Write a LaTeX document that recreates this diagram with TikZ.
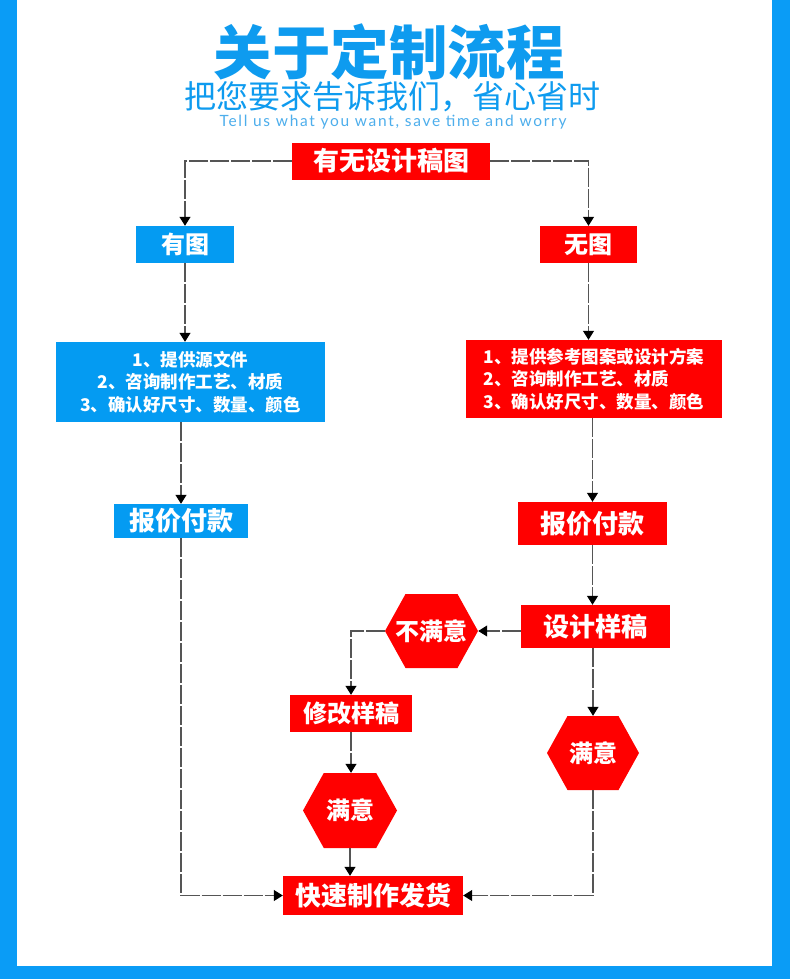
\documentclass[tikz,border=0pt]{standalone}
\usepackage{fontspec}
\setmainfont{Noto Sans CJK SC}
\newfontfamily\latinfont{Lato}[LetterSpace=11]
\usepackage{xcolor}
\usetikzlibrary{positioning,arrows.meta,shapes.symbols}

\definecolor{edgeblue}{HTML}{0A9CF6}
\definecolor{titleblue}{HTML}{0E9BEF}
\definecolor{subblue}{HTML}{4DAEEC}
\definecolor{boxblue}{HTML}{049BF2}
\definecolor{flowred}{HTML}{FF0000}
\definecolor{linegray}{HTML}{555555}

\begin{document}
\begin{tikzpicture}[x=1pt,y=-1pt,
    redbox/.style={fill=flowred, text=white, inner sep=0pt, font=\bfseries\fontsize{26}{28}\selectfont},
    bluebox/.style={redbox, fill=boxblue},
    listbox/.style={inner sep=0pt, text=white, font=\bfseries\fontsize{17.5}{22.5}\selectfont},
    hexa/.style={redbox, shape=signal, signal to=west and east, signal pointer angle=122,
      font=\bfseries\fontsize{24}{26}\selectfont},
    flow/.style={draw=linegray, line width=1.1pt, dash pattern=on 19pt off 2pt,
      -{Triangle[width=11pt,length=9pt,color=black]}}]
  % page and frame
  \fill[white] (0,0) rectangle (790,979);
  \fill[edgeblue] (0,0) rectangle (17,979);
  \fill[edgeblue] (772,0) rectangle (790,979);
  \fill[edgeblue] (0,966) rectangle (790,979);

  % heading
  \node[titleblue, font=\bfseries\fontsize{58.5}{62}\selectfont] (title) at (389,52) {关于定制流程};
  \node[titleblue, font=\fontsize{32}{34}\selectfont] (subtitle) at (392,97) {把您要求告诉我们，省心省时};
  \node[subblue, font=\latinfont\fontsize{15.5}{17}\selectfont] (motto) at (393,122) {Tell us what you want, save time and worry};

  % question and the two branches
  \node[redbox, minimum width=198, minimum height=37] (ask) at (391,161) {有无设计稿图};
  \node[bluebox, minimum width=98, minimum height=37, font=\bfseries\fontsize{24}{26}\selectfont] (has) at (185,244.5) {有图};
  \node[redbox, minimum width=97, minimum height=37, font=\bfseries\fontsize{24}{26}\selectfont] (hasnot) at (588.5,244.5) {无图};

  \node[listbox, fill=boxblue, minimum width=269, minimum height=80, align=center] (haslist) at (190.5,382)
    {1、提供源文件\\2、咨询制作工艺、材质\\3、确认好尺寸、数量、颜色};
  \node[listbox, fill=flowred, minimum width=256, minimum height=78, align=left] (hasnotlist) at (594,379)
    {1、提供参考图案或设计方案\\2、咨询制作工艺、材质\\ 3、确认好尺寸、数量、颜色};

  \node[bluebox, minimum width=134, minimum height=34] (haspay) at (181,521) {报价付款};
  \node[redbox, minimum width=149, minimum height=43] (hasnotpay) at (592.5,523.5) {报价付款};

  % design loop
  \node[redbox, minimum width=149, minimum height=43] (sample) at (595.5,626.5) {设计样稿};
  \node[hexa, minimum width=93, minimum height=74, inner xsep=-10pt] (unhappy) at (431.5,631) {不满意};
  \node[redbox, minimum width=122, minimum height=37, font=\bfseries\fontsize{24}{26}\selectfont] (revise) at (351,713.5) {修改样稿};
  \node[hexa, minimum width=94, minimum height=75] (happyleft) at (350,810.5) {满意};
  \node[hexa, minimum width=92, minimum height=74] (happyright) at (593,753) {满意};
  \node[redbox, minimum width=180, minimum height=39] (ship) at (373,895.5) {快速制作发货};

  % connectors
  \draw[flow] (ask.west) -| (has.north);
  \draw[flow] (ask.east) -| (hasnot.north);
  \draw[flow] (has.south) -- (has.south |- haslist.north);
  \draw[flow] (hasnot.south) -- (hasnot.south |- hasnotlist.north);
  \draw[flow] (haspay.north |- haslist.south) -- (haspay.north);
  \draw[flow] (hasnotpay.north |- hasnotlist.south) -- (hasnotpay.north);
  \draw[flow] (hasnotpay.south) -- (hasnotpay.south |- sample.north);
  \draw[flow] (sample.west |- unhappy.east) -- (unhappy.east);
  \draw[flow] (unhappy.west) -| (revise.north);
  \draw[flow] (revise.south) -- (revise.south |- happyleft.north);
  \draw[flow] (happyleft.south) -- (happyleft.south |- ship.north);
  \draw[flow] (sample.south -| happyright.north) -- (happyright.north);
  \draw[flow] (haspay.south) |- (ship.west);
  \draw[flow] (happyright.south) |- (ship.east);
\end{tikzpicture}
\end{document}
